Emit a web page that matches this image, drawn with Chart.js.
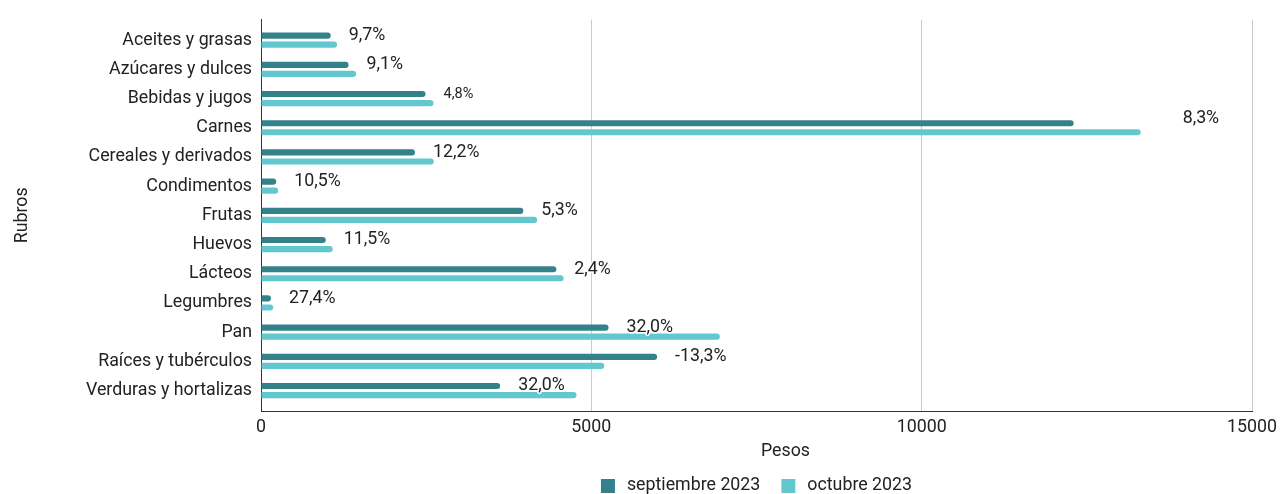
<!DOCTYPE html>
<html><head><meta charset="utf-8">
<script src="https://cdn.jsdelivr.net/npm/chart.js@4.4.1/dist/chart.umd.min.js"></script>
<style>html,body{margin:0;padding:0;background:#fff}#wrap{width:1283px;height:494px;position:relative}</style>
</head><body><div id="wrap"><canvas id="c" width="1283" height="494"></canvas></div>
<script>
const categories = ["Aceites y grasas","Azúcares y dulces","Bebidas y jugos","Carnes","Cereales y derivados","Condimentos","Frutas","Huevos","Lácteos","Legumbres","Pan","Raíces y tubérculos","Verduras y hortalizas"];
const septiembre = [1055, 1325, 2490, 12300, 2330, 230, 3970, 980, 4470, 150, 5260, 5995, 3620];
const octubre = [1150, 1440, 2610, 13315, 2615, 260, 4180, 1085, 4580, 185, 6945, 5195, 4775];
const variation = ["9,7%","9,1%","4,8%","8,3%","12,2%","10,5%","5,3%","11,5%","2,4%","27,4%","32,0%","-13,3%","32,0%"];
const xTicks = [0, 5000, 10000, 15000];
const seriesNames = ["septiembre 2023","octubre 2023"];
const xTitle = "Pesos";

const FONT = "Roboto";
const TXT = "#222222";
const FS = 17.8;

const labelPlugin = {
  id: 'varLabels',
  afterDatasetsDraw(chart, args, opts) {
    const ctx = chart.ctx;
    const meta = chart.getDatasetMeta(0);
    ctx.save();
    ctx.textBaseline = 'middle';
    ctx.textAlign = 'left';
    meta.data.forEach((bar, i) => {
      const n = (opts.nudge && opts.nudge[i]) || {};
      ctx.font = (n.size || FS) + 'px ' + FONT;
      const x = bar.x + 18 + (n.dx || 0);
      const y = bar.y + (n.dy || 0);
      ctx.lineWidth = 3;
      ctx.strokeStyle = '#ffffff';
      ctx.lineJoin = 'round';
      ctx.strokeText(variation[i], x, y);
      ctx.fillStyle = TXT;
      ctx.fillText(variation[i], x, y);
    });
    ctx.restore();
  }
};

const legendPlugin = {
  id: 'centerLegend',
  afterDraw(chart) {
    const ctx = chart.ctx;
    const ca = chart.chartArea;
    ctx.save();
    ctx.font = FS + 'px ' + FONT;
    ctx.textBaseline = 'middle';
    ctx.textAlign = 'center';
    ctx.fillStyle = TXT;
    ctx.fillText(xTitle, (ca.left + ca.right) / 2 + 29, 452);
    ctx.textAlign = 'left';
    const box = 14, gapBox = 12, gapItem = 21;
    const items = chart.data.datasets.map(d => ({label: d.label, color: d.backgroundColor, w: ctx.measureText(d.label).width}));
    let total = 0;
    items.forEach((it, k) => { total += box + gapBox + it.w + (k < items.length - 1 ? gapItem : 0); });
    let x = (ca.left + ca.right) / 2 - total / 2;
    const y = 486;
    items.forEach(it => {
      ctx.fillStyle = it.color;
      ctx.fillRect(x, y - box / 2, box, box);
      x += box + gapBox;
      ctx.fillStyle = TXT;
      ctx.fillText(it.label, x, y);
      x += it.w + gapItem;
    });
    ctx.restore();
  }
};

new Chart(document.getElementById('c'), {
  type: 'bar',
  data: {
    labels: categories,
    datasets: [
      {label: seriesNames[0], data: septiembre, backgroundColor: '#33828A', borderRadius: {topRight: 3, bottomRight: 3}, borderSkipped: 'start', barPercentage: 0.68, categoryPercentage: 0.62},
      {label: seriesNames[1], data: octubre, backgroundColor: '#62C7CF', borderRadius: {topRight: 3, bottomRight: 3}, borderSkipped: 'start', barPercentage: 0.68, categoryPercentage: 0.62}
    ]
  },
  options: {
    indexAxis: 'y',
    responsive: false,
    animation: false,
    layout: {padding: {left: 0, top: 18, right: 26, bottom: 27}},
    plugins: {
      legend: {display: false},
      tooltip: {enabled: false},
      varLabels: {nudge: {2: {size: 14.5}, 3: {dx: 91, dy: -5}}}
    },
    scales: {
      x: {
        min: 0, max: 15000,
        afterBuildTicks(s) { s.ticks = xTicks.map(v => ({value: v})); },
        afterFit(s) { s.height = 56; },
        grid: {color: '#cccccc', drawTicks: false},
        border: {display: true, color: '#333333', width: 1},
        ticks: {color: TXT, font: {family: FONT, size: FS}, padding: 6, maxRotation: 0, callback: v => String(v)},
        title: {display: false}
      },
      y: {
        afterBuildTicks(s) { s._startValue -= 0.2; s._valueRange += 0.4; },
        afterFit(s) { s.width = 261; },
        grid: {display: false, drawTicks: false},
        border: {display: true, color: '#333333', width: 1},
        ticks: {color: TXT, font: {family: FONT, size: FS}, padding: 9},
        title: {display: true, text: 'Rubros', color: TXT, font: {family: FONT, size: FS}, padding: {top: 12}}
      }
    }
  },
  plugins: [labelPlugin, legendPlugin]
});
</script></body></html>
